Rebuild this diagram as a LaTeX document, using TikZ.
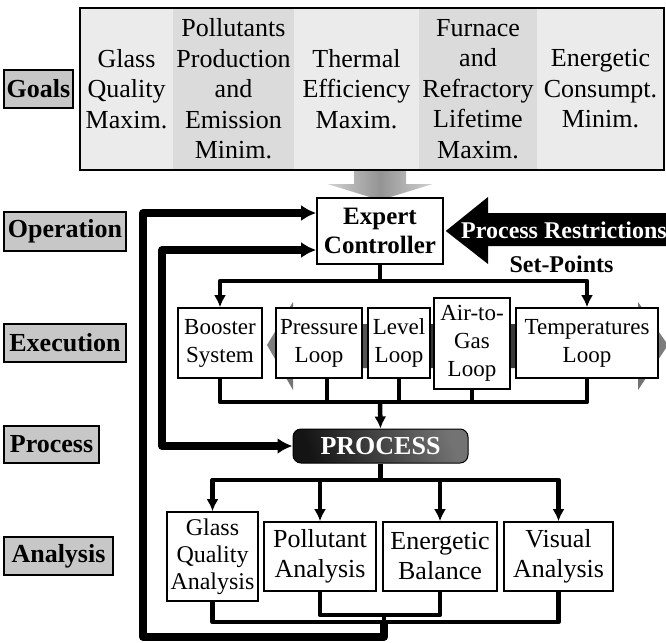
\documentclass[tikz,border=0pt]{standalone}
\usepackage{fontspec}
\setmainfont{Liberation Serif}
\usetikzlibrary{arrows.meta,calc}
\pgfdeclarelayer{bg}
\pgfsetlayers{bg,main}
\newcommand\szGoal{\fontsize{26}{30.5}\selectfont}
\newcommand\szExec{\fontsize{23}{28}\selectfont}
\newcommand\szAna{\fontsize{26}{30}\selectfont}
\newcommand\szGQA{\fontsize{24}{27}\selectfont}
\newcommand\szLab{\fontsize{26}{30}\selectfont\bfseries}
\newcommand\szBold{\fontsize{24}{28}\selectfont\bfseries}
\begin{document}
\begin{tikzpicture}[x=1pt,y=-1pt,
  lab/.style={draw,line width=2.2pt,fill=black!22,inner sep=0pt,font=\szLab},
  goalcol/.style={inner sep=0pt,minimum height=162pt,align=center,font=\szGoal},
  bx/.style={draw,line width=1.6pt,fill=white,inner sep=0pt,align=center},
  med/.style={line width=4.5pt,line join=round},
  big/.style={line width=7.5pt,line join=round},
  tipm/.style={-{Latex[length=12pt,width=12pt]}},
  tipb/.style={-{Latex[length=15pt,width=16pt]}},
  tipbb/.style={{Latex[length=15pt,width=16pt]}-{Latex[length=15pt,width=16pt]}}
]
\useasboundingbox (0,0) rectangle (666,642);

% goals
\node[goalcol,fill=black!8,minimum width=93pt] (g1) at (126.5,89) {Glass\\Quality\\Maxim.};
\node[goalcol,fill=black!14,minimum width=121pt] (g2) at (233.5,89) {Pollutants\\Production\\and\\Emission\\Minim.};
\node[goalcol,fill=black!8,minimum width=125pt] (g3) at (356.5,89) {Thermal\\Efficiency\\Maxim.};
\node[goalcol,fill=black!14,minimum width=118pt] (g4) at (478,89) {Furnace\\and\\Refractory\\Lifetime\\Maxim.};
\node[goalcol,fill=black!8,minimum width=127pt] (g5) at (600.5,89) {Energetic\\Consumpt.\\Minim.};
\node[draw,line width=1.8pt,inner sep=0pt,minimum width=584pt,minimum height=162pt] (goals) at (372,89) {};

% level labels
\node[lab,minimum width=69pt,minimum height=38pt] (lgoals) at (38.5,89) {Goals};
\node[lab,minimum width=122pt,minimum height=39pt] (loper) at (65,231.5) {Operation};
\node[lab,minimum width=122pt,minimum height=38pt] (lexec) at (65,343) {Execution};
\node[lab,minimum width=95pt,minimum height=37pt] (lproc) at (51.5,444.5) {Process};
\node[lab,minimum width=109pt,minimum height=38pt] (lana) at (58.5,556) {Analysis};

% controller
\node[bx,font=\fontsize{25}{29}\selectfont\bfseries,minimum width=126pt,minimum height=66pt] (ctrl) at (380,231) {Expert\\Controller};

% execution boxes
\node[bx,font=\szExec,minimum width=84pt,minimum height=70pt] (boost) at (220,343) {Booster\\System};
\node[bx,font=\szExec,minimum width=86pt,minimum height=70pt] (press) at (319,343) {Pressure\\Loop};
\node[bx,font=\szExec,minimum width=62pt,minimum height=70pt] (level) at (399,343) {Level\\Loop};
\node[bx,font=\szExec,minimum width=76pt,minimum height=91pt] (air) at (472,343.5) {Air-to-\\Gas\\Loop};
\node[bx,font=\szExec,minimum width=142pt,minimum height=70pt] (temp) at (587,343) {Temperatures\\Loop};

% process
\node[draw=black,line width=1pt,rounded corners=8pt,minimum width=175pt,minimum height=34pt,inner sep=0pt,
      top color=black!55,bottom color=black!92,shading angle=-70,text=white,
      font=\fontsize{26}{30}\selectfont\bfseries] (proc) at (380.5,446) {PROCESS};

% analysis boxes
\node[bx,font=\szGQA,minimum width=91pt,minimum height=89pt] (glass) at (212.5,556.5) {Glass\\Quality\\Analysis};
\node[bx,font=\szAna,minimum width=112pt,minimum height=69pt] (poll) at (320,556.5) {Pollutant\\Analysis};
\node[bx,font=\szAna,minimum width=114pt,minimum height=69pt] (ener) at (440,556.5) {Energetic\\Balance};
\node[bx,font=\szAna,minimum width=109pt,minimum height=69pt] (vis) at (558.5,556.5) {Visual\\Analysis};

% background block arrows
\begin{pgfonlayer}{bg}
\shade[left color=black!18,right color=black!18,middle color=black!42]
  ($(ctrl.north)+(-26,-28)$) -- ($(ctrl.north)+(26,-28)$) -- ($(ctrl.north)+(26,-13)$)
  -- ($(ctrl.north)+(52,-13)$) -- ($(ctrl.north)+(0,3)$) -- ($(ctrl.north)+(-52,-13)$)
  -- ($(ctrl.north)+(-26,-13)$) -- cycle;
\shade[left color=black!50,right color=black!50,middle color=black!85]
  (267,345) -- (293,302) -- (293,324) -- (638,324) -- (638,302) -- (668,345)
  -- (638,390) -- (638,368) -- (293,368) -- (293,390) -- cycle;
\end{pgfonlayer}

% process restrictions arrow
\fill[black] ($(ctrl.east)+(2,0)$) -- (488,197) -- (488,213) -- (680,213) -- (680,246) -- (488,246) -- (488,264) -- cycle;
\node[font=\szBold,text=white,anchor=west,inner sep=0pt] (restr) at (461,230) {Process Restrictions};
\node[font=\szBold,inner sep=0pt] (setp) at (561.5,264.5) {Set-Points};

% set-point bus
\coordinate (sp) at (ctrl.south |- 0,281);
\draw[med] (ctrl.south) -- (sp);
\draw[med,tipm] (sp) -| (boost.north);
\draw[med,tipm] (sp) -| (temp.north);

% execution outputs
\coordinate (eb) at (ctrl.south |- 0,402);
\coordinate (pq) at ($(press.south)+(8,0)$);
\draw[med] (boost.south) -- (boost.south |- eb) -- (temp.south |- eb) -- (temp.south);
\draw[med] (pq) -- (pq |- eb);
\draw[med] (level.south) -- (level.south |- eb);
\draw[med] (air.south) -- (air.south |- eb);
\draw[med,tipm] (eb) -- (proc.north);

% process outputs
\coordinate (pb) at (proc.south |- 0,480);
\draw[med] (proc.south) -- (pb);
\draw[med,tipm] (pb) -| (glass.north);
\draw[med,tipm] (pb) -| (poll.north);
\draw[med,tipm] (pb) -| (ener.north);
\draw[med,tipm] (pb) -| (vis.north);

% analysis outputs and feedback
\coordinate (ab) at (384,615);
\coordinate (ag) at (384,622);
\draw[med] (poll.south) -- (poll.south |- ab) -- (ener.south |- ab) -- (ener.south);
\draw[med] (glass.south) -- (glass.south |- ag) -- (vis.south |- ag) -- (vis.south);
\draw[med] (ab) -- (ag);
\draw[big,tipb] (ag) -- (ag |- 0,637) -| (143,213) -- (ctrl.west |- 0,213);

% inner loop
\draw[big,tipbb] (ctrl.west |- 0,250) -- (162,250) -- (162,446) -- (proc.west);
\end{tikzpicture}
\end{document}
